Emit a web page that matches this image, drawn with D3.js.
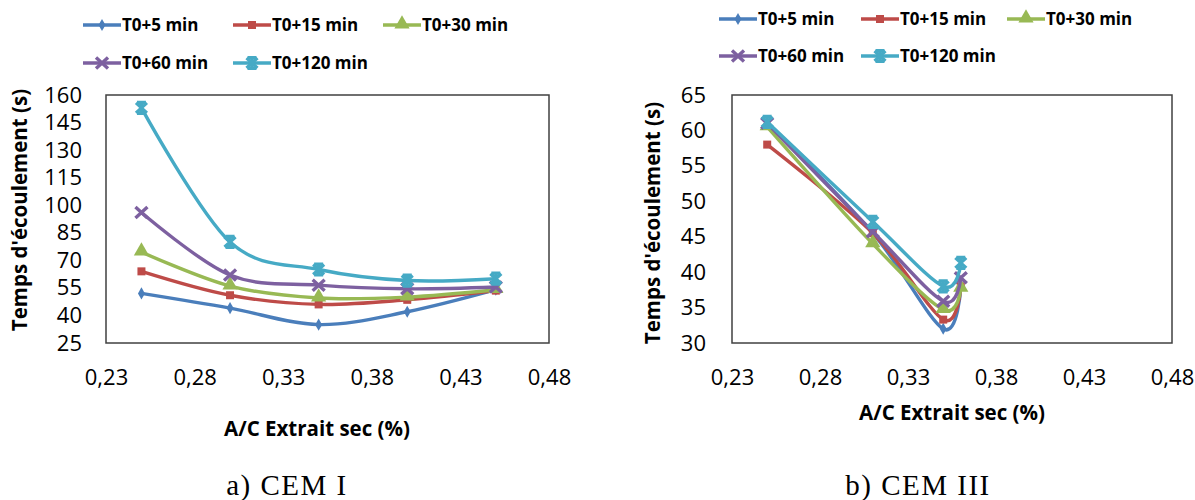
<!DOCTYPE html>
<html><head><meta charset="utf-8">
<script src="https://cdn.jsdelivr.net/npm/d3@7"></script>
<style>
html,body{margin:0;padding:0;background:#fff;}
svg{display:block;}
</style></head>
<body>
<svg id="chart" width="1195" height="500"></svg>
<script>
// ---------- data ----------
const seriesNames = ["T0+5 min","T0+15 min","T0+30 min","T0+60 min","T0+120 min"];
const seriesColors = ["#4A7EBB","#BE4B48","#98B954","#7D60A0","#46AAC5"];
const seriesMarkers = ["diamond","square","triangle","x","star"];

const xTicks = [0.23,0.28,0.33,0.38,0.43,0.48];

// a) CEM I
const xCEM1 = [0.25,0.30,0.35,0.40,0.45];
const cem1_t5   = [52,44,35,42,54];
const cem1_t15  = [64,51,46,48.5,53.5];
const cem1_t30  = [74.5,56,49.5,50,54];
const cem1_t60  = [96,62,56.5,54.5,55.5];
const cem1_t120 = [153,80,65,59,60];
const yTicksCEM1 = [25,40,55,70,85,100,115,130,145,160];

// b) CEM III
const xCEM3 = [0.25,0.31,0.35,0.36];
const cem3_t5   = [61,45.5,32,38];
const cem3_t15  = [58,45.5,33.3,38];
const cem3_t30  = [60.5,44,34.7,37.7];
const cem3_t60  = [61,45.7,35.9,39.2];
const cem3_t120 = [61.2,47.1,38,41.3];
const yTicksCEM3 = [30,35,40,45,50,55,60,65];

const xTitle = "A/C Extrait sec (%)";
const yTitle = "Temps d'écoulement (s)";

// ---------- drawing ----------
const svg = d3.select("#chart");
const fmt = d => d3.format(".2f")(d).replace(".", ",");
const SANS = "'Open Sans',Lato,sans-serif";
const SERIF = "'Liberation Serif','DejaVu Serif',serif";

function marker(g, type, color){
  if(type==="diamond"){
    g.append("path").attr("d", d3.symbol(d3.symbolDiamond, 42)()).attr("fill", color);
  } else if(type==="square"){
    g.append("path").attr("d", d3.symbol(d3.symbolSquare, 64)()).attr("fill", color);
  } else if(type==="triangle"){
    g.append("path").attr("d", d3.symbol(d3.symbolTriangle, 100)()).attr("fill", color).attr("transform","translate(0,-1)");
  } else if(type==="x"){
    g.append("path").attr("d","M-6,-5.5L6,5.5M-6,5.5L6,-5.5").attr("stroke", color).attr("stroke-width",3.4).attr("fill","none");
  } else if(type==="star"){
    g.append("path").attr("d","M-5.5,-5L5.5,5M-5.5,5L5.5,-5M0,-6L0,6M-4.5,-5.5L4.5,-5.5M-4.5,5.5L4.5,5.5").attr("stroke", color).attr("stroke-width",3.2).attr("fill","none");
  }
}

function drawChart(cfg){
  const x = d3.scaleLinear().domain([0.23,0.48]).range([cfg.left, cfg.right]);
  const y = d3.scaleLinear().domain([cfg.yTicks[0], cfg.yTicks[cfg.yTicks.length-1]]).range([cfg.bottom, cfg.top]);

  // y tick labels
  const ya = svg.append("g").attr("transform",`translate(${cfg.left - cfg.yLabelGap},0)`)
    .call(d3.axisLeft(y).tickValues(cfg.yTicks).tickSize(0).tickPadding(0).tickFormat(d3.format("d")));
  ya.select(".domain").remove();
  ya.selectAll("text").attr("font-size",22).attr("font-family",SANS).attr("fill","#000");

  // x tick labels
  const xa = svg.append("g").attr("transform",`translate(0,${cfg.xLabelY})`)
    .call(d3.axisBottom(x).tickValues(xTicks).tickSize(0).tickPadding(0).tickFormat(fmt));
  xa.select(".domain").remove();
  xa.selectAll("text").attr("font-size",22).attr("font-family",SANS).attr("fill","#000").attr("dy","0.35em").attr("y",0);

  // plot box
  svg.append("rect").attr("x",cfg.left).attr("y",cfg.top)
    .attr("width",cfg.right-cfg.left).attr("height",cfg.bottom-cfg.top)
    .attr("fill","none").attr("stroke","#404040").attr("stroke-width",1.5);

  // series
  const line = d3.line().x((d,i)=>x(cfg.xs[i])).y(d=>y(d)).curve(d3.curveCatmullRom.alpha(0));
  cfg.series.forEach((vals,k)=>{
    svg.append("path").attr("d", line(vals)).attr("fill","none")
      .attr("stroke", seriesColors[k]).attr("stroke-width",3.4).attr("stroke-linejoin","round");
    vals.forEach((v,i)=>{
      const g = svg.append("g").attr("transform",`translate(${x(cfg.xs[i])},${y(v)})`);
      marker(g, seriesMarkers[k], seriesColors[k]);
    });
  });

  // axis titles
  svg.append("text").attr("x",cfg.xTitleX).attr("y",cfg.xTitleY).attr("dy","0.35em")
    .attr("text-anchor","middle").attr("font-family",SANS).attr("font-weight",700).attr("font-size",20.5).text(xTitle);
  svg.append("text").attr("transform",`translate(${cfg.yTitleX},${cfg.yTitleCY}) rotate(-90)`).attr("dy","0.35em")
    .attr("text-anchor","middle").attr("font-family",SANS).attr("font-weight",700).attr("font-size",20.5).text(yTitle);

  // legend
  seriesNames.forEach((name,k)=>{
    const row = k<3 ? 0 : 1, col = k<3 ? k : k-3;
    const lx = cfg.legX[col], ly = cfg.legY[row];
    const g = svg.append("g");
    g.append("line").attr("x1",lx).attr("x2",lx+38).attr("y1",ly).attr("y2",ly)
      .attr("stroke",seriesColors[k]).attr("stroke-width",3.4);
    marker(g.append("g").attr("transform",`translate(${lx+19},${ly})`), seriesMarkers[k], seriesColors[k]);
    g.append("text").attr("x",lx+39).attr("y",ly).attr("dy","0.35em")
      .attr("font-family",SANS).attr("font-weight",700).attr("font-size",17).text(name);
  });

  // caption
  svg.append("text").attr("x",cfg.capX).attr("y",495).attr("text-anchor","middle")
    .attr("font-family",SERIF).attr("font-size",29)
    .attr("letter-spacing",1.5).text(cfg.caption);
}

drawChart({
  left:106, right:549, top:95, bottom:343,
  xs:xCEM1, series:[cem1_t5,cem1_t15,cem1_t30,cem1_t60,cem1_t120], yTicks:yTicksCEM1,
  yLabelGap:24, xLabelY:377, xTitleX:317, xTitleY:429, yTitleX:20, yTitleCY:210,
  legX:[83,233,383], legY:[25,63], capX:287, caption:"a) CEM I"
});
drawChart({
  left:732, right:1172, top:95, bottom:343,
  xs:xCEM3, series:[cem3_t5,cem3_t15,cem3_t30,cem3_t60,cem3_t120], yTicks:yTicksCEM3,
  yLabelGap:26, xLabelY:377, xTitleX:952, xTitleY:413, yTitleX:653, yTitleCY:223,
  legX:[719,861,1007], legY:[19,56], capX:918, caption:"b) CEM III"
});
</script>
</body></html>
